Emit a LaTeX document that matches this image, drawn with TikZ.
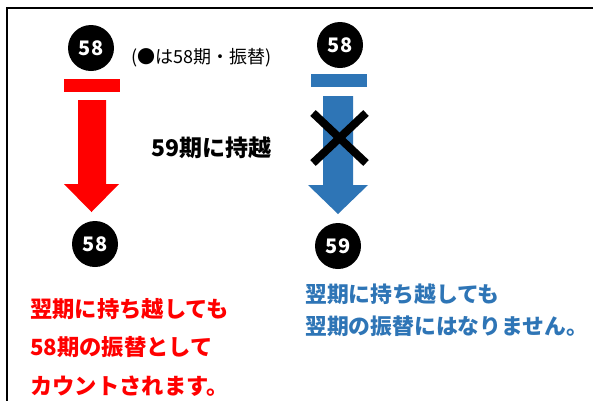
\documentclass[tikz,border=0pt]{standalone}
\usepackage{fontspec}
\newfontfamily\jp{Noto Sans CJK JP}
\definecolor{myred}{HTML}{FF0000}
\definecolor{myblue}{HTML}{2E75B6}
\tikzset{
  numc/.style={circle, fill=black, minimum size=46pt, inner sep=0pt, text=white, font=\jp\bfseries\fontsize{20}{20}\selectfont},
  bigtxt/.style={anchor=west, inner sep=0pt, font=\jp\bfseries\fontsize{22.3}{22.3}\selectfont},
  bluetxt/.style={anchor=west, inner sep=0pt, text=myblue, font=\jp\bfseries\fontsize{21.8}{21.8}\selectfont},
  midtxt/.style={anchor=west, inner sep=0pt, font=\jp\bfseries\fontsize{23}{23}\selectfont},
  smalltxt/.style={anchor=west, inner sep=0pt, font=\jp\fontsize{18}{18}\selectfont},
  bar/.style={inner sep=0pt, minimum width=56pt, minimum height=13pt},
}
\begin{document}
\begin{tikzpicture}[x=1pt,y=-1pt]
\useasboundingbox (0,0) rectangle (593,400);
\fill[white] (0,0) rectangle (593,400);
\draw[line width=1.5pt] (7,401) -- (7,8) -- (594,8);

% left column
\node[numc] (l1) at (91,48) {58};
\node[smalltxt] (note) at (131,58) {(●は58期・振替)};
\node[bar, fill=myred] (lbar) at (92,85.5) {};
\fill[myred] (78,100) -- (106,100) -- (106,184) -- (119,184) -- (91.5,212) -- (64,184) -- (78,184) -- cycle;
\node[numc] (l2) at (95,244) {58};

\node[midtxt] (mid) at (151,148) {59期に持越};

% right column
\node[numc] (r1) at (340,45) {58};
\node[bar, fill=myblue] (rbar) at (339,80.5) {};
\fill[myblue] (323,96) -- (353,96) -- (353,185) -- (368,185) -- (338,214) -- (308,185) -- (323,185) -- cycle;
\draw[line width=8pt] (313,113) -- (366,163);
\draw[line width=8pt] (366,113) -- (313,163);
\node[numc] (r2) at (338,246) {59};

% texts
\node[bigtxt, text=myred] (t1) at (30,309) {翌期に持ち越しても};
\node[bigtxt, text=myred] (t2) at (30,347) {58期の振替として};
\node[bigtxt, text=myred] (t3) at (30,386) {カウントされます。};
\node[bluetxt] (u1) at (305,294) {翌期に持ち越しても};
\node[bluetxt] (u2) at (305,326) {翌期の振替にはなりません。};
\end{tikzpicture}
\end{document}
